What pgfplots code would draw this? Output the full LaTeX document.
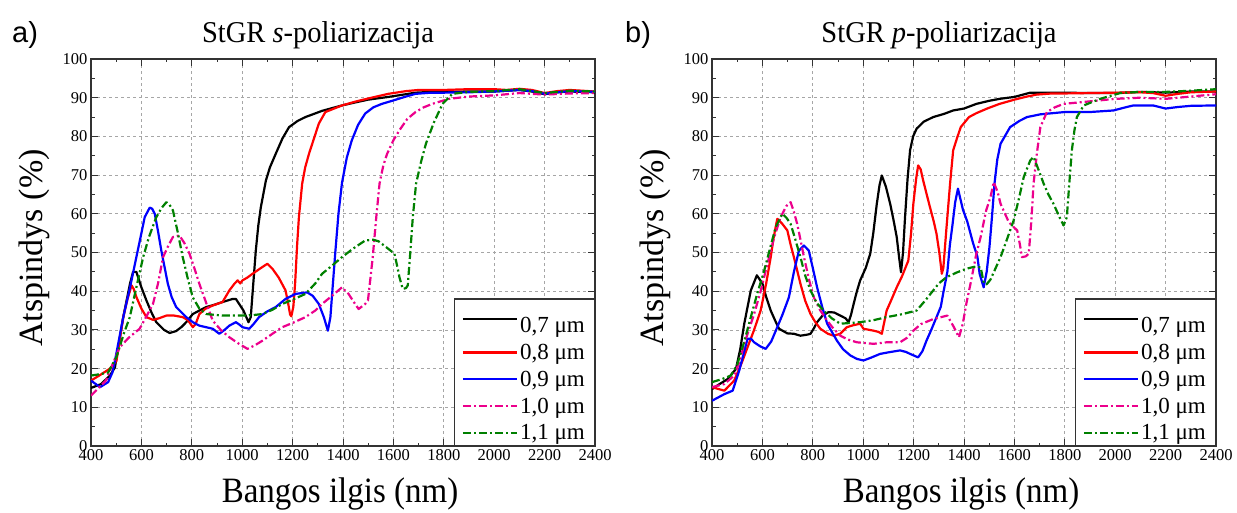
\documentclass[border=0pt]{standalone}
\usepackage{graphicx}
\usepackage{pgfplots}
\pgfplotsset{compat=1.18}
\usepackage{fontspec}
\setmainfont{Liberation Serif}
\setsansfont{Liberation Sans}
\newfontfamily\tnr{Liberation Serif}
\newfontfamily\arial{Liberation Sans}
\definecolor{cgreen}{RGB}{0,128,0}
\pgfplotsset{
  panel/.style={
    width=504pt, height=387pt, scale only axis,
    xmin=400, xmax=2400, ymin=0, ymax=100,
    xtick={400,600,...,2400}, ytick={0,10,...,100},
    minor x tick num=1, minor y tick num=1,
    tick align=inside, tick pos=both,
    major tick length=7pt, minor tick length=3.5pt,
    every tick/.style={black!80, line width=1pt},
    axis line style={black!80, line width=1.6pt},
    grid=major,
    major grid style={gray!70, dash pattern=on 3pt off 3pt, line width=0.8pt},
    tick label style={font=\tnr\fontsize{16.5}{18}\selectfont},
    /pgf/number format/assume math mode=true,
    /pgf/number format/set thousands separator={},
    legend style={at={(1,0)}, anchor=south east, draw=black!80, line width=1.5pt, fill=white,
      font=\tnr\fontsize{23}{25}\selectfont, row sep=6pt, inner xsep=7.5pt, inner ysep=2pt},
    legend cell align=left,
    legend image code/.code={\draw[#1] (0pt,0pt) -- (54pt,0pt);},
  },
  s07/.style={black, line width=2.2pt, line join=round},
  s08/.style={red, line width=2.2pt, line join=round},
  s09/.style={blue, line width=2.2pt, line join=round},
  s10/.style={magenta, line width=2.2pt, line join=round, dash pattern=on 8pt off 3pt on 2pt off 3pt},
  s11/.style={cgreen, line width=2.2pt, line join=round, dash pattern=on 8pt off 3pt on 2pt off 3pt},
}
\begin{document}
\begin{tikzpicture}
\useasboundingbox (-91pt,-66pt) rectangle (1146pt,446pt);
\begin{axis}[panel, at={(0pt,0pt)}, anchor=south west]
\addplot[s07] coordinates {(400,15)(440,16)(475,18.2)(495,20.3)(528,33.3)(555,42)(567,45)(580,45)(600,41)(620,37.6)(640,34.5)(659,32)(690,30)(712,29.2)(738,29.7)(760,30.8)(778,32)(804,34.1)(830,35)(857,35.9)(890,36.5)(922,37.2)(962,38)(975,38)(988,36.7)(1005,35)(1025,32)(1034,33.3)(1044,42)(1054,50.5)(1064,57)(1074,61.7)(1094,68.6)(1110,72)(1133,75.5)(1160,79.5)(1186,82.4)(1220,84)(1251,85)(1317,86.6)(1396,88)(1450,88.8)(1500,89.5)(1580,90.2)(1620,90.6)(1688,91.3)(1750,91.5)(1800,91.5)(1900,91.6)(2000,91.6)(2050,91.8)(2100,92)(2150,91.6)(2200,90.9)(2250,91.4)(2300,91.6)(2350,91.5)(2400,91.4)};
\addlegendentry{\rule{0pt}{29.5pt}0,7 μm}
\addplot[s08] coordinates {(400,16.9)(440,18.5)(475,20)(501,22)(528,33.3)(545,38)(561,41.5)(570,40.5)(580,38.5)(600,35.5)(620,33.3)(646,32.6)(670,33)(699,33.7)(730,33.7)(764,33.3)(785,32.5)(804,30.7)(815,31.5)(830,34.1)(855,35.5)(883,36.3)(922,37.2)(949,40.2)(970,42)(982,42.8)(992,42)(1001,42.8)(1020,43.5)(1041,44.5)(1070,45.8)(1100,47.1)(1120,45.8)(1145,43.5)(1172,40.2)(1182,37)(1190,34)(1195,33.5)(1203,36)(1210,42)(1218,52)(1225,59.1)(1238,67.8)(1250,72)(1265,75.5)(1285,79.5)(1304,83.3)(1330,86.3)(1396,88)(1450,89)(1500,89.8)(1580,91)(1650,91.7)(1700,92)(1800,92)(1900,92.2)(2000,92.2)(2050,92)(2100,92.3)(2150,92)(2200,91.2)(2250,91.7)(2300,92)(2350,91.8)(2400,91.6)};
\addlegendentry{0,8 μm}
\addplot[s09] coordinates {(400,16.9)(436,15.2)(468,16.5)(485,19)(495,22)(528,33.3)(555,41)(580,48.8)(600,55)(613,59.1)(633,61.6)(643,61.3)(653,60)(666,55.5)(679,50.5)(705,41.9)(720,38.5)(738,35.9)(778,33.3)(804,32)(830,31.1)(883,30.3)(909,29)(930,30)(949,31.1)(975,32)(990,31.3)(1001,30.7)(1028,30.3)(1045,31.5)(1067,33.3)(1100,34.8)(1133,35.9)(1172,38)(1212,39.3)(1258,39.7)(1280,38.8)(1304,36.7)(1324,33.3)(1340,29.8)(1350,33.3)(1360,42)(1370,50.5)(1382,60)(1396,68)(1415,74.5)(1435,79)(1460,83)(1488,85.9)(1520,87.5)(1554,88.4)(1600,89.3)(1650,90.3)(1688,91)(1750,91.3)(1800,91.3)(1900,91.4)(2000,91.6)(2100,92)(2150,91.7)(2200,91)(2250,91.4)(2300,91.7)(2400,91.5)};
\addlegendentry{0,9 μm}
\addplot[s10] coordinates {(400,13)(430,15)(459,16.9)(485,21)(514,25.5)(550,28)(593,30.3)(620,33.5)(646,36.7)(666,42)(686,48.8)(705,51.5)(725,54)(751,54.4)(770,52.5)(791,49.7)(810,46)(830,41.9)(857,37)(883,32.4)(915,30)(949,28.1)(985,26.5)(1021,25.1)(1050,26)(1080,27.2)(1120,29)(1159,30.7)(1200,31.8)(1251,33.3)(1290,35)(1317,36.7)(1360,39)(1396,41)(1422,39.3)(1445,37)(1462,35.4)(1488,36.7)(1499,37.6)(1510,44)(1518,48.8)(1532,59.1)(1545,67.8)(1560,72.5)(1575,75.5)(1600,79)(1624,81.6)(1655,84.5)(1688,86.3)(1720,87.5)(1754,88.4)(1820,89.7)(1900,90.3)(2000,90.6)(2100,91.2)(2200,90.8)(2300,91.1)(2400,91.2)};
\addlegendentry{1,0 μm}
\addplot[s11] coordinates {(400,18.2)(440,18.6)(468,19)(501,23)(530,29)(554,33.3)(580,41)(607,48.8)(630,54)(659,59.1)(680,61.5)(699,63)(712,62.3)(725,60.9)(745,55)(764,48.8)(785,43)(804,38.4)(830,35.5)(857,34.1)(922,33.7)(988,33.7)(1040,33.8)(1080,34.1)(1120,35.2)(1159,36.7)(1200,37.8)(1251,39.3)(1290,42)(1317,44.5)(1360,46.8)(1396,48.8)(1440,51)(1488,53.1)(1520,53.3)(1541,52.9)(1571,51.4)(1604,49.7)(1615,46.5)(1624,43.6)(1637,40.6)(1650,40.8)(1657,41.5)(1667,50)(1677,59.1)(1690,67.8)(1710,73.5)(1729,78.1)(1760,83.5)(1795,88.4)(1834,91)(1900,91.5)(2000,91.7)(2100,92.2)(2200,91.2)(2300,91.8)(2400,91.6)};
\addlegendentry{1,1 μm}
\end{axis}
\begin{axis}[panel, at={(621pt,0pt)}, anchor=south west]
\addplot[s07] coordinates {(400,14.7)(430,16)(462,17.3)(495,19.9)(512,25)(528,31.6)(554,40.2)(578,44.1)(600,42)(615,38.5)(633,35)(650,32.5)(666,30.3)(699,29.1)(725,29)(751,28.5)(780,28.8)(791,29)(805,30.5)(817,32)(840,33.8)(863,34.6)(885,34.5)(909,33.7)(930,33)(942,32)(952,34)(962,36.7)(975,40)(988,42.8)(1010,46)(1028,49.7)(1040,55)(1054,62.6)(1065,67.5)(1074,69.9)(1090,67)(1107,62.6)(1120,58.5)(1133,54)(1142,49)(1150,44.9)(1158,50)(1166,59.1)(1176,69)(1186,76.4)(1198,80)(1212,82)(1240,83.8)(1278,85)(1320,85.8)(1357,86.7)(1400,87.2)(1449,88.4)(1500,89.2)(1541,89.7)(1600,90.2)(1663,91.3)(1700,91.3)(1800,91.3)(1900,91.2)(2000,91.2)(2100,91.5)(2200,91.3)(2300,91.6)(2400,91.6)};
\addlegendentry{\rule{0pt}{29.5pt}0,7 μm}
\addplot[s08] coordinates {(400,15.2)(449,14.3)(488,16.9)(515,21)(541,25.5)(567,30)(593,35)(615,42)(633,48.8)(645,54)(659,58.7)(670,58)(679,57.4)(699,55.7)(712,52)(725,48.8)(751,41.9)(770,37.5)(791,34.1)(810,32)(830,30.3)(860,29)(883,28.5)(909,29)(935,30.7)(960,31.2)(988,31.6)(1001,30.3)(1041,29.8)(1060,29.5)(1074,29)(1093,35)(1110,37.5)(1133,41)(1155,44)(1179,47.9)(1190,55)(1199,62.6)(1210,69)(1218,72.5)(1228,71.5)(1238,68.6)(1252,65)(1265,61.7)(1280,58)(1291,54.8)(1302,50)(1312,44.5)(1318,46)(1330,56)(1345,68)(1357,76.4)(1372,79.5)(1387,82.4)(1420,85)(1449,86)(1492,87.2)(1541,88.4)(1600,89.5)(1650,90.3)(1688,90.8)(1750,91.1)(1800,91.1)(1900,91.2)(2000,91.3)(2100,91.4)(2150,91.2)(2200,90.5)(2250,91)(2300,91.4)(2400,91.6)};
\addlegendentry{0,8 μm}
\addplot[s09] coordinates {(400,11.7)(449,13.4)(482,14.3)(508,19.5)(530,25)(541,27.7)(555,27.7)(567,26.8)(590,25.8)(613,25.1)(635,27)(659,30.7)(680,34)(705,38.4)(725,45)(745,50.5)(765,51.8)(784,50.5)(800,46)(817,41)(837,36)(857,31.6)(896,27.2)(920,25)(949,23.4)(975,22.5)(1001,22.1)(1030,22.8)(1067,23.8)(1100,24.2)(1146,24.7)(1170,24.3)(1186,23.8)(1218,22.9)(1235,24.5)(1251,27.2)(1270,30)(1291,33.3)(1308,36)(1317,39.3)(1334,45)(1344,52)(1354,57)(1365,63)(1376,66.5)(1396,61)(1413,58)(1436,52.4)(1453,49)(1462,44.5)(1478,41)(1490,45)(1501,51.4)(1512,60)(1521,67.8)(1532,74)(1545,78.1)(1583,82.4)(1620,84)(1650,85)(1703,85.7)(1800,86.3)(1900,86.3)(1993,86.7)(2040,87.5)(2072,88)(2150,88)(2200,87.2)(2250,87.6)(2300,87.9)(2400,88)};
\addlegendentry{0,9 μm}
\addplot[s10] coordinates {(400,15.2)(449,16)(488,18.2)(510,22)(528,26.4)(567,34.1)(593,40)(620,47.1)(645,53.5)(672,59.1)(695,62)(712,63)(725,60.5)(738,57.4)(752,53)(765,48.8)(785,43)(804,38.4)(830,35)(857,32.4)(880,30.5)(909,28.5)(940,27.5)(975,26.8)(1041,26.4)(1093,26.8)(1146,26.8)(1175,28)(1199,29.8)(1229,31.5)(1278,32.8)(1334,33.7)(1360,30.7)(1380,28.1)(1395,31.5)(1409,36.7)(1426,42)(1449,49.7)(1466,54)(1488,60.9)(1505,64.3)(1518,68.2)(1534,65.5)(1545,62.6)(1578,57.8)(1611,55.7)(1622,52)(1630,48.8)(1645,49)(1657,49.7)(1667,58)(1676,67.8)(1690,76)(1703,82.4)(1729,86.3)(1760,87.5)(1795,88.4)(1875,88.9)(2000,89.7)(2100,90)(2200,89.7)(2300,90.3)(2400,90.9)};
\addlegendentry{1,0 μm}
\addplot[s11] coordinates {(400,16.5)(440,17.3)(475,18.2)(501,21.2)(528,27)(554,33.3)(580,39.5)(607,45.3)(630,51)(653,56.6)(679,60)(695,59)(712,57.4)(730,53.5)(751,48.8)(770,44)(791,40.2)(815,37)(843,35)(875,33)(909,31.6)(950,31.8)(988,32)(1040,32.5)(1093,33.3)(1150,34)(1212,35)(1245,37.5)(1278,40.2)(1300,42)(1330,43.6)(1370,44.8)(1409,45.8)(1440,46.3)(1466,46.2)(1479,42)(1490,41.8)(1505,43)(1545,48.8)(1571,53.5)(1597,58.3)(1620,64.5)(1637,69.5)(1663,73.8)(1676,74.7)(1695,71.5)(1716,67.8)(1735,65)(1755,62.6)(1780,59)(1795,57)(1808,59.1)(1818,68)(1828,76.4)(1838,81.5)(1848,85)(1875,88)(1940,89.7)(2020,91.2)(2100,91.5)(2200,91.5)(2300,91.8)(2400,92.2)};
\addlegendentry{1,1 μm}
\end{axis}
\node[anchor=base, font=\tnr\fontsize{28.5}{32}\selectfont] at (227pt,403pt) {\scalebox{1}[1.06]{StGR \textit{s}-poliarizacija}};
\node[anchor=base, font=\tnr\fontsize{28.5}{32}\selectfont] at (848pt,403pt) {\scalebox{1}[1.06]{StGR \textit{p}-poliarizacija}};
\node[anchor=base west, inner sep=0pt, font=\arial\fontsize{29}{32}\selectfont] at (-79pt,403pt) {a)};
\node[anchor=base west, inner sep=0pt, font=\arial\fontsize{29}{32}\selectfont] at (534pt,403pt) {b)};
\node[anchor=base, font=\tnr\fontsize{33}{36}\selectfont] at (249pt,-56pt) {\scalebox{1}[1.08]{Bangos ilgis (nm)}};
\node[anchor=base, font=\tnr\fontsize{33}{36}\selectfont] at (870pt,-56pt) {\scalebox{1}[1.08]{Bangos ilgis (nm)}};
\node[rotate=90, inner sep=0pt, font=\tnr\fontsize{34}{36}\selectfont] at (-56.5pt,198pt) {Atspindys (\%)};
\node[rotate=90, inner sep=0pt, font=\tnr\fontsize{34}{36}\selectfont] at (564.5pt,198pt) {Atspindys (\%)};
\end{tikzpicture}
\end{document}
